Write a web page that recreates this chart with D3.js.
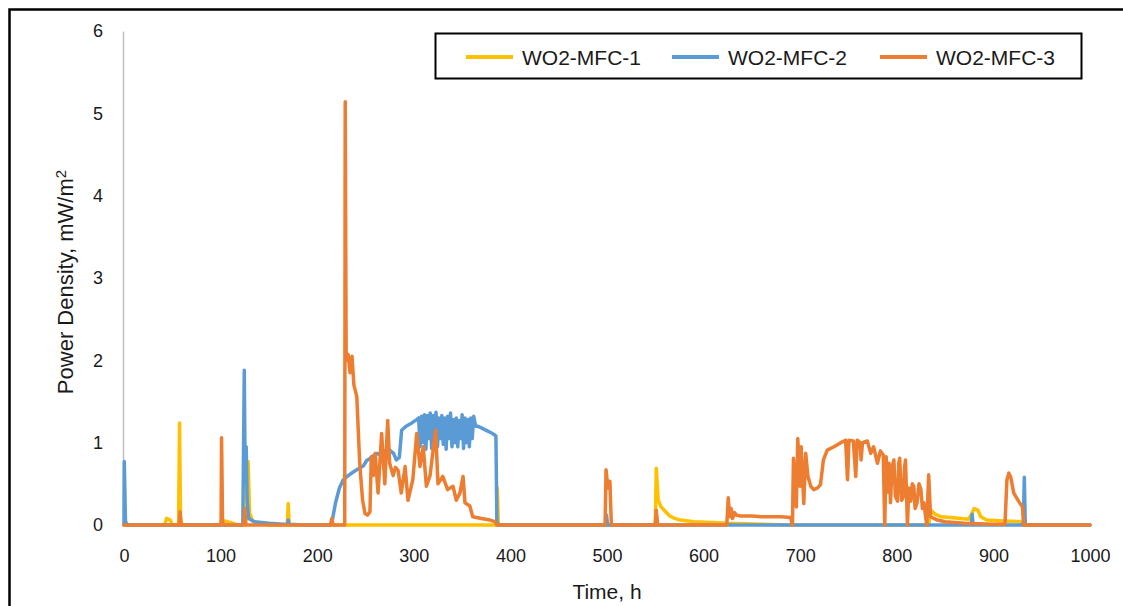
<!DOCTYPE html>
<html>
<head>
<meta charset="utf-8">
<script src="https://cdn.jsdelivr.net/npm/d3@7"></script>
<style>
  html, body { margin: 0; padding: 0; background: #fff; }
  svg { display: block; }
  text { font-family: "Liberation Sans", Arial, sans-serif; fill: #1a1a1a; }
</style>
</head>
<body>
<svg id="chart" width="1123" height="606"></svg>
<script>
// ---------- data ----------
const seriesNames = ["WO2-MFC-1", "WO2-MFC-2", "WO2-MFC-3"];
const seriesColors = ["#FFC000", "#5B9BD5", "#ED7D31"];
const xTicks = [0, 100, 200, 300, 400, 500, 600, 700, 800, 900, 1000];
const yTicks = [0, 1, 2, 3, 4, 5, 6];

// WO2-MFC-1 [time h, power density mW/m2]
const mfc1 = [
  [0,0],[1,0.05],[2,0],[42,0],[44,0.08],[48,0.06],[50,0],[56.5,0],[57.5,1.24],[58.5,0.1],[60,0],
  [100,0],[101,0.06],[104,0.05],[110,0.03],[118,0],[126,0],[127,0.5],[128.5,0.77],[130,0.15],
  [133,0.05],[140,0.02],[150,0],[169,0],[170,0.26],[171,0],[386,0],[386.5,0.45],[387.5,0],
  [550,0],[551,0.69],[553,0.3],[556,0.22],[560,0.17],[565,0.11],[570,0.08],[576,0.06],[590,0.04],
  [610,0.03],[625,0.02],[690,0],[833,0],[835,0.18],[840,0.13],[846,0.1],[856,0.09],[866,0.08],
  [874,0.07],[877,0.12],[880,0.2],[884,0.18],[887,0.1],[893,0.06],[910,0.05],[928,0.04],[932,0],[1000,0]
];

// WO2-MFC-2
const mfc2 = [
  [0,0],[0.3,0.77],[1.5,0.05],[3,0],[123,0],[124.5,1.88],[125.5,0.5],[126.5,0.95],[127.5,0.3],
  [129,0.08],[135,0.04],[150,0.02],[165,0.01],[169.5,0.01],[170,0.06],[171,0.01],[185,0],[214,0],
  [216,0.08],[219,0.27],[223,0.45],[227,0.55],[232,0.6],[237,0.64],[241,0.67],[245,0.7],[248,0.72],
  [251,0.78],[255,0.81],[258,0.84],[262,0.87],[266,0.85],[270,0.9],[275,0.91],[279,0.87],[282,0.79],
  [285,0.82],[287.4,1.15],[292,1.2],[298,1.24],[303,1.28],[305,1.3],[306.5,0.95],[308,1.32],[310,1.0],
  [311,1.34],[312.5,0.92],[314,1.33],[315.5,1.05],[317,1.36],[318.5,0.93],[320,1.33],[321.5,1.0],
  [323,1.37],[324.5,0.95],[326,1.3],[327.5,1.05],[329,1.33],[330.5,0.98],[332,1.3],[333.5,0.92],
  [335,1.32],[336.5,1.05],[338,1.36],[339.5,0.95],[341,1.28],[342.5,1.0],[344,1.3],[345.5,0.95],
  [347,1.27],[348.5,1.05],[350,1.34],[351.5,0.93],[353,1.3],[354.5,1.0],[356,1.28],[357.5,0.95],
  [359,1.3],[360.5,1.05],[362,1.32],[364,1.2],[366,1.2],[370,1.18],[375,1.15],[380,1.12],[383,1.1],
  [385,1.08],[386,0.05],[387,0],
  [499,0],[499.5,0.12],[500.5,0],[550,0],[551,0.1],[552,0],[877,0],[878,0.13],[879,0],
  [931,0],[932,0.58],[933,0],[1000,0]
];

// WO2-MFC-3
const mfc3 = [
  [0,0],[57,0],[58,0.16],[59,0],[100.5,0],[101,1.06],[102,0.05],[103,0],[124,0],[125,0.2],[126,0],
  [214,0],[215,0.08],[216.5,0],[228.5,0],[229,5.14],[230,2.0],[232,2.07],[234,1.85],[236,2.05],
  [238,1.7],[241,1.56],[244,0.75],[247,0.3],[249.5,0.14],[252,0.12],[254.6,0.16],[256,0.83],[258,0.6],
  [260,0.87],[263,0.39],[266.7,1.11],[270,0.5],[273,1.27],[275,0.75],[278.6,0.6],[281,0.7],
  [283.8,0.66],[287,0.39],[291,0.71],[294,0.3],[299,0.55],[303,1.11],[306.4,0.71],[309.8,0.95],
  [313,0.47],[316.8,0.6],[320,0.91],[322.6,1.15],[325,0.5],[330,0.59],[335,0.43],[340.6,0.47],
  [344,0.3],[347.8,0.39],[351,0.59],[353,0.27],[358,0.23],[361,0.1],[370,0.08],[379,0.06],[384,0.04],
  [386,0],[498,0],[499,0.67],[501,0.45],[503,0.53],[504.5,0],[550,0],[551,0.18],[552.5,0],
  [624,0],[625.5,0.33],[627,0.1],[628.5,0.2],[630,0.08],[632,0.15],[634,0.12],[638,0.11],[650,0.11],
  [660,0.1],[670,0.1],[680,0.1],[690,0.09],[692,0],[693,0.81],[696,0.22],[697.5,1.05],[700,0.47],
  [701,0.95],[703.7,0.26],[705.7,0.87],[708,0.59],[711,0.47],[714,0.43],[718,0.45],[721,0.49],
  [724,0.79],[728,0.91],[735,0.95],[742,1.0],[747,1.03],[749,0.55],[750.5,1.03],[755,1.02],
  [757.5,0.59],[759,1.03],[762,1.0],[763,0.79],[764.5,1.0],[769.5,1.02],[773,0.87],[776,0.95],
  [780,0.75],[783,0.9],[786,0.85],[787.5,0],[789,0.83],[790.5,0.4],[792,0.75],[793.5,0.27],
  [795,0.7],[797,0.79],[798.5,0.35],[800.7,0.29],[802,0.75],[803,0.81],[805,0.3],[807,0.35],
  [808,0.7],[809,0.79],[811,0],[812.5,0.45],[814.5,0.29],[816,0.5],[817.6,0.47],[819,0.2],[821,0.27],
  [823,0.5],[825,0.43],[826.5,0.2],[828,0.27],[831,0],[833,0.61],[835,0.1],[842,0.06],[850,0.04],[870,0.02],
  [900,0.01],[912,0.01],[914,0.55],[916,0.63],[918,0.58],[921,0.39],[926,0.29],[930,0.22],
  [931.5,0],[1000,0]
];
const seriesData = [mfc1, mfc2, mfc3];

// ---------- drawing ----------
const svg = d3.select("#chart");

// outer frame (cropped figure border)
svg.append("rect")
  .attr("x", 9.5).attr("y", 9.5).attr("width", 1300).attr("height", 800)
  .attr("fill", "none").attr("stroke", "#000").attr("stroke-width", 2.5);

const x = d3.scaleLinear().domain([0, 1000]).range([124, 1090]);
const y = d3.scaleLinear().domain([0, 6]).range([525, 31]);

// x axis
const xAxis = svg.append("g")
  .attr("transform", `translate(0,${y(0)})`)
  .call(d3.axisBottom(x).tickValues(xTicks).tickSize(0).tickPadding(24).tickFormat(d3.format("d")));
xAxis.select(".domain").attr("stroke", "#d9d9d9").attr("stroke-width", 1);
xAxis.selectAll("text").style("font-size", "18px").attr("fill", "#1a1a1a");

// y axis
const yAxis = svg.append("g")
  .attr("transform", `translate(${x(0) - 1},0)`)
  .call(d3.axisLeft(y).tickValues(yTicks).tickSize(0).tickPadding(20).tickFormat(d3.format("d")));
yAxis.select(".domain").attr("stroke", "#bfbfbf").attr("stroke-width", 1.5);
yAxis.selectAll("text").style("font-size", "18px").attr("fill", "#1a1a1a");

// lines
const line = d3.line().x(d => x(d[0])).y(d => y(d[1]));
seriesData.forEach((data, i) => {
  svg.append("path")
    .datum(data)
    .attr("d", line)
    .attr("fill", "none")
    .attr("stroke", seriesColors[i])
    .attr("stroke-width", 3.5)
    .attr("stroke-linejoin", "round")
    .attr("stroke-linecap", "round");
});

// axis titles
svg.append("text")
  .attr("x", 607).attr("y", 599)
  .attr("text-anchor", "middle")
  .style("font-size", "21px")
  .text("Time, h");

const yt = svg.append("text")
  .attr("transform", "translate(73,282) rotate(-90)")
  .attr("text-anchor", "middle")
  .style("font-size", "22px");
yt.append("tspan").text("Power Density, mW/m");
yt.append("tspan").attr("dy", "-0.45em").style("font-size", "15px").text("2");

// legend
const legend = svg.append("g");
legend.append("rect")
  .attr("x", 435.5).attr("y", 33.5).attr("width", 646).attr("height", 45)
  .attr("fill", "#fff").attr("stroke", "#000").attr("stroke-width", 2);
const legendX = [466, 672, 880];
seriesNames.forEach((name, i) => {
  legend.append("line")
    .attr("x1", legendX[i]).attr("x2", legendX[i] + 47)
    .attr("y1", 57).attr("y2", 57)
    .attr("stroke", seriesColors[i]).attr("stroke-width", 4);
  legend.append("text")
    .attr("x", legendX[i] + 56).attr("y", 64.5)
    .style("font-size", "21px")
    .text(name);
});
</script>
</body>
</html>
